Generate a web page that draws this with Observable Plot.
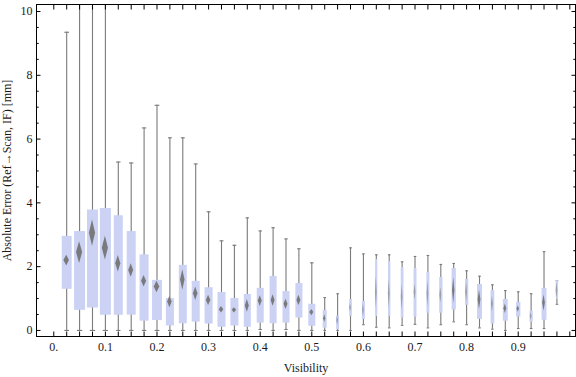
<!DOCTYPE html>
<html><head><meta charset="utf-8">
<script src="https://cdn.jsdelivr.net/npm/d3@7"></script>
<script src="https://cdn.jsdelivr.net/npm/@observablehq/plot@0.6"></script>
<style>body{margin:0;background:#fff}#chart svg{display:block}</style>
</head><body><div id="chart"></div>
<script>
// visibility bins (box centers)
const visibility = [0.025,0.05,0.075,0.1,0.125,0.15,0.175,0.2,0.225,0.25,0.275,0.3,0.325,0.35,0.375,0.4,0.425,0.45,0.475,0.5,0.525,0.55,0.575,0.6,0.625,0.65,0.675,0.7,0.725,0.75,0.775,0.8,0.825,0.85,0.875,0.9,0.925,0.95,0.975];
// whisker low / high
const whiskerLow = [0,0,0,0,0,0,0,0,0,0, 0,0,0,0,0,0.03,0,0.03,0,0, 0,0,0,0.18,0.1,0.08,0.16,0.19,0.08,0.18, 0.27,0.18,0.08,0.04,0,0.06,0.06,0.06,0.82];
const whiskerHigh = [9.35,11.5,11.5,11.5,5.28,5.25,6.35,7.06,6.04,6.04, 5.22,3.72,2.81,2.67,3.53,3.12,3.22,2.87,2.56,2.12, 1.03,1.15,2.59,2.40,2.37,2.37,2.15,2.32,2.35,2.07, 2.10,1.87,1.70,1.43,1.25,1.21,1.15,2.47,1.56];
// quartiles
const q1 = [1.29,0.63,0.70,0.48,0.48,0.48,0.29,0.31,0.14,0.21, 0.26,0.20,0.10,0.14,0.10,0.23,0.21,0.23,0.39,0.13, 0.07,0.02,0.44,0.34,0.44,0.44,0.39,0.42,0.54,0.54, 0.64,0.79,0.35,0.20,0.29,0.42,0.26,0.32,0.98];
const q3 = [2.95,3.10,3.78,3.82,3.60,3.10,2.37,1.57,1.00,2.04, 1.54,1.34,1.19,1.00,1.13,1.32,1.69,1.22,1.47,0.82, 0.63,0.45,0.97,0.91,2.22,2.16,1.97,1.94,1.82,1.66, 1.94,1.60,1.44,1.25,0.97,0.88,0.60,1.32,1.56];
// mean and confidence half-interval (diamond)
const mean = [2.19,2.44,3.05,2.58,2.09,1.88,1.54,1.36,0.89,1.58, 1.15,0.94,0.65,0.63,0.77,0.92,0.94,0.82,0.94,0.56, 0.37,0.31,0.71,0.63,1.2,1.15,1.04,1.2,1.15,1.1, 1.25,1.2,0.96,0.82,0.68,0.67,0.44,0.86,1.25];
const ci = [0.17,0.34,0.41,0.37,0.26,0.21,0.18,0.18,0.18,0.32, 0.21,0.16,0.10,0.08,0.2,0.17,0.18,0.16,0.16,0.1, 0.12,0.15,0.13,0.2,0.5,0.45,0.4,0.25,0.4,0.25, 0.4,0.3,0.3,0.25,0.15,0.1,0.12,0.25,0.25];
// relative sample weight (box width)
const weight = [0.9,1,1,1,0.82,0.82,0.82,0.9,0.73,0.73, 0.73,0.73,0.73,0.73,0.64,0.64,0.64,0.64,0.64,0.64, 0.36,0.27,0.25,0.27,0.18,0.21,0.25,0.27,0.27,0.3, 0.39,0.3,0.45,0.34,0.45,0.39,0.3,0.45,0.21];
// ticks
const xLabelTicks = [0,0.1,0.2,0.3,0.4,0.5,0.6,0.7,0.8,0.9];
const xLabels = ["0.","0.1","0.2","0.3","0.4","0.5","0.6","0.7","0.8","0.9"];
const xMinorTicks = d3.range(0, 41).map(i => i / 40);
const yMajorTicks = [0,2,4,6,8,10];
const yMinorTicks = d3.range(0, 21).map(i => i / 2).filter(v => v % 2 !== 0);
const xTitle = "Visibility";
const yTitle = "Absolute Error (Ref\u2192Scan, IF) [mm]";

const rows = visibility.map((v, i) => ({
  v, lo: whiskerLow[i], hi: whiskerHigh[i], q1: q1[i], q3: q3[i],
  mean: mean[i], ci: ci[i], w: weight[i]
}));

const BOX = 11;           // px width at weight 1
const capSymbol = {draw(ctx, size) { const r = Math.sqrt(size / Math.PI); ctx.moveTo(-r, 0); ctx.lineTo(r, 0); }};
const FONT = "'Liberation Serif', 'Times New Roman', serif";

const diamonds = (index, scales) => {
  const {x, y} = scales;
  const g = d3.create("svg:g");
  g.selectAll("path").data(rows).join("path")
    .attr("d", d => {
      const cx = x(d.v), hw = Math.max(0.9, d.w * BOX * 0.28);
      return `M${cx - hw},${y(d.mean)}L${cx},${y(d.mean + d.ci)}L${cx + hw},${y(d.mean)}L${cx},${y(d.mean - d.ci)}Z`;
    })
    .attr("fill", "#757575")
    .attr("fill-opacity", d => d.w < 0.35 ? 0.55 : 0.95);
  return g.node();
};

const plot = Plot.plot({
  width: 576, height: 377,
  marginLeft: 36, marginRight: 1, marginTop: 4, marginBottom: 41,
  style: {fontFamily: FONT, fontSize: "12px", color: "#1a1a1a", background: "#fff"},
  x: {domain: [-0.0335, 1.011], axis: null},
  y: {domain: [-0.19, 10.22], axis: null},
  r: {type: "identity"},
  marks: [
    Plot.ruleX(rows, {x: "v", y1: "lo", y2: "hi", stroke: "#7a7a7a", strokeWidth: 1.1, clip: true}),
    Plot.dot(rows, {x: "v", y: "lo", r: d => Math.max(1.3, d.w * BOX * 0.24), symbol: capSymbol, stroke: "#7a7a7a", strokeWidth: 1.1, fill: "none", clip: true}),
    Plot.dot(rows, {x: "v", y: "hi", r: d => Math.max(1.3, d.w * BOX * 0.24), symbol: capSymbol, stroke: "#7a7a7a", strokeWidth: 1.1, fill: "none", clip: true}),
    Plot.ruleX(rows, {x: "v", y1: "q1", y2: "q3", stroke: "#cbd2f4", strokeWidth: d => d.w * BOX}),
    diamonds,
    Plot.frame({stroke: "#000", strokeWidth: 1}),
    // ticks (inward)
    Plot.axisX(xMinorTicks, {anchor: "bottom", tickSize: -4.5, fill: "none", stroke: "#000", label: null}),
    Plot.axisX(xMinorTicks, {anchor: "top", tickSize: -4.5, fill: "none", stroke: "#000", label: null}),
    Plot.axisY(yMajorTicks, {anchor: "left", tickSize: -4.5, fill: "none", stroke: "#000", label: null}),
    Plot.axisY(yMinorTicks, {anchor: "left", tickSize: -2.7, fill: "none", stroke: "#000", label: null}),
    Plot.axisY(yMajorTicks, {anchor: "right", tickSize: -4.5, fill: "none", stroke: "#000", label: null}),
    Plot.axisY(yMinorTicks, {anchor: "right", tickSize: -2.7, fill: "none", stroke: "#000", label: null}),
    // tick labels
    Plot.axisX(xLabelTicks, {anchor: "bottom", tickSize: 0, tickPadding: 6, tickFormat: (d, i) => xLabels[i], label: null, fontSize: 12}),
    Plot.axisY(yMajorTicks, {anchor: "left", tickSize: 0, tickPadding: 4, tickFormat: d => String(d), label: null, fontSize: 12}),
    // titles
    Plot.text([xTitle], {frameAnchor: "bottom", dy: 35, text: d => d, fontSize: 12, textAnchor: "middle"}),
    Plot.text([yTitle], {frameAnchor: "left", dx: -29, rotate: -90, text: d => d, fontSize: 12, textAnchor: "middle"})
  ]
});
document.getElementById("chart").appendChild(plot);
</script>
</body></html>
